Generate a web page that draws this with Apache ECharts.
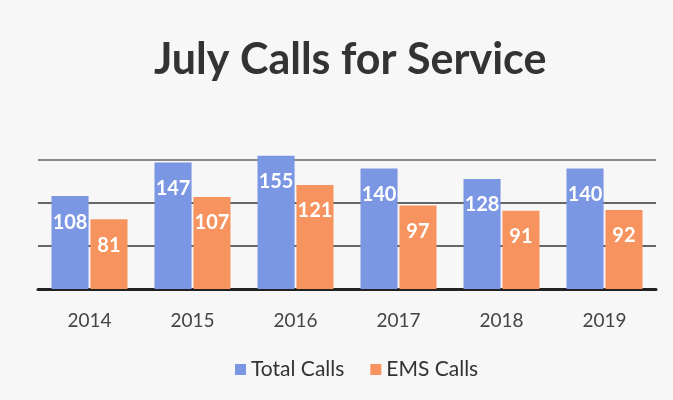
<!DOCTYPE html>
<html>
<head>
<meta charset="utf-8">
<script src="https://cdn.jsdelivr.net/npm/echarts@6/dist/echarts.min.js"></script>
<style>
html, body { margin: 0; padding: 0; background: #f7f7f7; }
#chart { width: 673px; height: 400px; }
</style>
</head>
<body>
<div id="chart"></div>
<script>
const years = ['2014', '2015', '2016', '2017', '2018', '2019']
const totalCalls = [108, 147, 155, 140, 128, 140]
const emsCalls = [81, 107, 121, 97, 91, 92]

const chart = echarts.init(document.getElementById('chart'))
const barLabel = {
	show: true,
	position: 'insideTop',
	distance: 16,
	color: '#fff',
	fontFamily: 'Lato',
	fontWeight: 'bold',
	fontSize: 20
}
chart.setOption({
	backgroundColor: '#f7f7f7',
	title: {
		text: 'July Calls for Service',
		left: 149,
		top: 34,
		textStyle: {
			color: '#333',
			fontFamily: 'Lato',
			fontWeight: 'bold',
			fontSize: 43
		}
	},
	legend: {
		data: ['Total Calls', 'EMS Calls'],
		left: 230,
		bottom: 15,
		itemWidth: 11,
		itemHeight: 11,
		icon: 'rect',
		itemGap: 26,
		textStyle: { color: '#333', fontFamily: 'Lato', fontSize: 21 }
	},
	grid: { left: 38, right: 17, top: 117, bottom: 111 },
	xAxis: {
		type: 'category',
		data: years,
		axisLine: { lineStyle: { color: '#222', width: 3 } },
		axisTick: { show: false },
		axisLabel: { color: '#444', fontFamily: 'Lato', fontSize: 19, margin: 22 }
	},
	yAxis: {
		type: 'value',
		min: 0,
		max: 200,
		interval: 50,
		axisLabel: { show: false },
		axisLine: { show: false },
		splitLine: {
			lineStyle: {
				color: ['#222', '#666', '#666', '#888', 'transparent'],
				width: 2
			}
		}
	},
	series: [
		{
			name: 'Total Calls',
			type: 'bar',
			data: totalCalls,
			barWidth: '36%',
			barGap: '5%',
			itemStyle: { color: '#7b96e2' },
			label: barLabel
		},
		{
			name: 'EMS Calls',
			type: 'bar',
			data: emsCalls,
			barWidth: '36%',
			itemStyle: { color: '#f6935f' },
			label: barLabel
		}
	]
})
</script>
</body>
</html>
